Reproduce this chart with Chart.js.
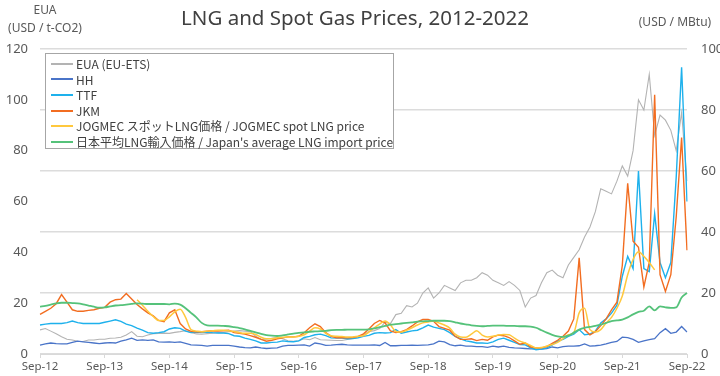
<!DOCTYPE html>
<html>
<head>
<meta charset="utf-8">
<script src="https://cdn.jsdelivr.net/npm/chart.js@4"></script>
<style>
  body { margin: 0; background: #fff; }
  #wrap { position: relative; width: 720px; height: 376px; font-family: "Noto Sans", "Noto Sans CJK JP", sans-serif; color: #595959; }
  #wrap canvas { position: absolute; left: 0; top: 0; }
  .txt { position: absolute; white-space: nowrap; }
  #title { left: 0; width: 710px; top: 3px; text-align: center; font-size: 20.5px; color: #404040; }
  #legend { position: absolute; left: 45px; top: 53px; width: 349px; height: 96px; border: 1px solid #a6a6a6; background: #fff; padding-top: 2px; box-sizing: border-box; }
  .item { height: 15.6px; line-height: 15.6px; font-family: "Noto Sans CJK JP", sans-serif; font-size: 12px; color: #404040; display: flex; align-items: center; white-space: nowrap; }
  .swatch { width: 22px; height: 2px; margin: 0 3px 0 5px; flex: none; }
</style>
</head>
<body>
<div id="wrap">
  <canvas id="chart" width="720" height="376"></canvas>
  <div id="title" class="txt">LNG and Spot Gas Prices, 2012-2022</div>
  <div class="txt" style="left:0;width:90px;text-align:center;top:1px;font-size:12px;">EUA</div>
  <div class="txt" style="left:0;width:90px;text-align:center;top:19px;font-size:12px;">(USD / t-CO2)</div>
  <div class="txt" style="left:630px;width:90px;text-align:center;top:13px;font-size:12px;">(USD / MBtu)</div>
  <div id="legend"></div>
</div>
<script>
// monthly points, Sep-12 .. Sep-22
const monthNames = ["Sep", "Oct", "Nov", "Dec", "Jan", "Feb", "Mar", "Apr", "May", "Jun", "Jul", "Aug"];
const firstYear = 12;

// EUA, USD / t-CO2 (left axis)
const eua = [
  9.5, 10.0, 9.0, 8.0, 6.8, 5.8, 5.5, 5.0, 4.9, 5.5, 5.5, 5.8,
  5.8, 6.2, 6.3, 6.6, 7.5, 8.8, 7.0, 6.8, 7.5, 8.0, 8.1, 8.2,
  8.1, 8.5, 8.8, 9.2, 8.5, 7.9, 7.8, 8.0, 8.2, 8.4, 8.4, 8.8,
  9.0, 9.2, 9.0, 8.8, 7.0, 5.8, 5.8, 6.2, 6.6, 6.0, 5.2, 5.0,
  5.2, 6.0, 5.6, 6.5, 5.6, 5.5, 5.4, 5.3, 5.3, 5.7, 6.1, 6.5,
  7.6, 8.8, 9.2, 10.0, 12.5, 12.0, 15.5, 16.0, 19.0, 18.5, 20.0, 24.0,
  26, 22, 24, 27, 26, 25, 28, 29, 29, 30, 32, 31,
  29, 28, 27, 28.5, 27, 25, 18.5, 22, 23, 28, 32, 33,
  31, 30, 35, 38, 41, 46, 50, 56, 65, 64, 63, 68,
  74, 70, 80, 100, 96, 110, 86, 94, 92, 88, 80, 95,
  68
];

// USD / MBtu (right axis)
const hh = [
  2.9, 3.3, 3.6, 3.4, 3.3, 3.3, 3.8, 4.2, 4.0, 3.8, 3.6, 3.4,
  3.6, 3.7, 3.6, 4.2, 4.6, 5.2, 4.5, 4.6, 4.5, 4.6, 4.0, 3.9,
  4.0, 3.8, 4.0, 3.5, 3.0, 2.9, 2.8, 2.6, 2.8, 2.8, 2.8, 2.8,
  2.6, 2.3, 2.1, 2.0, 2.3, 2.0, 1.8, 1.9, 2.0, 2.6, 2.8, 2.8,
  2.9, 3.0, 2.6, 3.6, 3.3, 2.8, 2.9, 3.1, 3.2, 3.0, 2.9, 2.9,
  2.9, 2.9, 3.0, 2.8, 3.8, 2.7, 2.7, 2.8, 2.8, 2.9, 2.8, 2.9,
  3.0, 3.3, 4.2, 4.0, 3.1, 2.7, 2.9, 2.6, 2.6, 2.4, 2.4, 2.2,
  2.6, 2.3, 2.6, 2.2, 2.0, 1.9, 1.8, 1.7, 1.8, 1.6, 1.8, 2.3,
  2.0, 2.4, 2.6, 2.6, 2.7, 3.3, 2.6, 2.7, 2.9, 3.3, 3.8, 4.1,
  5.5, 5.4, 4.8, 3.8, 4.3, 4.7, 5.0, 7.0, 8.3, 6.8, 7.2, 9.0,
  7.2
];

const ttf = [
  9.5, 9.8, 10.0, 10.0, 10.0, 10.3, 10.8, 10.3, 10.0, 10.0, 10.0, 10.0,
  10.4, 10.8, 11.2, 10.7, 9.8, 9.3, 8.5, 7.8, 7.0, 6.8, 7.0, 7.3,
  8.2, 8.6, 8.4, 7.5, 7.0, 7.2, 7.0, 7.2, 7.0, 6.9, 6.9, 6.7,
  6.0, 5.8, 5.2, 4.8, 4.3, 3.6, 3.6, 3.8, 3.9, 4.3, 4.1, 4.0,
  4.3, 5.4, 5.8, 6.3, 6.5, 6.0, 5.3, 5.2, 5.2, 5.0, 5.1, 5.3,
  5.8, 6.1, 6.8, 7.0, 6.9, 7.0, 8.0, 6.8, 7.2, 7.6, 7.8, 8.6,
  9.5, 8.8, 8.4, 8.0, 7.0, 5.8, 5.0, 4.3, 4.0, 3.6, 3.6, 3.5,
  4.0, 4.8, 5.2, 4.5, 3.8, 3.1, 3.0, 2.0, 1.4, 1.6, 2.0, 3.0,
  4.2, 4.8, 5.8, 6.5, 8.0, 6.3, 6.5, 7.5, 10.2, 11.5, 13.4, 16.0,
  25.5, 32.0, 28.0, 60.0, 28.0, 27.0, 46.0, 30.0, 25.0, 30.0, 58.0, 94.0,
  50.0
];

const jkm = [
  13.0, 14.0, 15.0, 16.5, 19.5, 17.0, 14.5, 14.0, 14.0, 14.3, 14.5, 15.0,
  15.3, 17.0, 17.8, 18.0, 19.8, 18.0, 16.2, 14.8, 13.5, 12.5, 11.0, 10.6,
  13.5, 14.5, 10.0, 8.2, 7.4, 7.3, 7.3, 7.5, 7.6, 7.5, 7.6, 7.8,
  7.0, 6.8, 6.5, 6.0, 5.5, 4.8, 4.2, 4.5, 5.0, 5.3, 5.6, 5.6,
  5.8, 7.0, 8.6, 9.9, 9.0, 7.0, 5.8, 5.3, 5.4, 5.3, 5.4, 5.8,
  6.6, 8.2, 10.0, 11.0, 10.2, 7.6, 7.0, 7.3, 8.0, 9.2, 10.5, 11.3,
  11.3, 10.7, 9.0, 8.4, 7.8, 5.8, 4.8, 4.8, 5.0, 4.4, 4.8, 4.5,
  5.6, 6.2, 6.0, 5.4, 4.3, 3.2, 3.6, 2.3, 2.0, 2.0, 2.4, 3.5,
  4.5, 5.8, 7.5, 11.5, 31.5, 8.0, 6.3, 7.3, 9.3, 11.5, 14.5, 17.0,
  29.0, 56.0, 37.0, 35.0, 22.0, 30.0, 85.0, 26.0, 20.5, 26.0, 45.0, 71.0,
  34.0
];

const jogmec = [
  null, null, null, null, null, null, null, null, null, null, null, null,
  null, null, null, null, null, null, 17.8, 16.0, 14.0, 12.3, 11.0, 11.0,
  12.2, 13.8, 14.7, 12.0, 8.0, 7.5, 7.3, 7.5, 7.6, 7.8, 7.8, 7.6,
  7.4, 7.0, 6.8, 6.8, 6.4, 5.5, 5.0, 5.0, 5.3, 5.5, 5.6, 5.6,
  5.8, 6.3, 7.5, 8.6, 8.2, 6.8, 6.0, 5.8, 5.7, 5.6, 5.6, 5.8,
  6.0, 7.2, 8.6, 9.8, 10.8, 9.5, 7.4, 7.2, 7.8, 8.6, 9.5, 10.2,
  10.5, 10.8, 10.2, 9.5, 8.5, 6.5, 5.6, 5.5, 6.5, 7.6, 6.2, 5.6,
  5.8, 6.2, 6.4, 6.3, 5.2, 4.2, 3.6, 2.8, 2.0, 2.1, 2.6, 3.1,
  3.8, 5.0, 6.3, 7.0, 13.5, 15.0, 8.0, 7.2, 8.0, 10.2, 12.0, 15.0,
  19.0, 26.0, 31.0, 33.5, 32.0, 30.0, 27.6, null, null, null, null, null,
  null
];

const japanImport = [
  15.5, 15.8, 16.2, 16.6, 16.8, 16.8, 16.7, 16.6, 16.3, 15.9, 15.5, 15.2,
  15.3, 15.6, 15.9, 16.0, 16.2, 16.4, 16.6, 16.5, 16.4, 16.4, 16.4, 16.4,
  16.3, 16.5, 16.2, 15.0, 13.5, 12.0, 10.2, 9.4, 9.3, 9.3, 9.2, 9.1,
  8.8, 8.5, 8.1, 7.6, 7.1, 6.6, 6.2, 6.0, 5.9, 6.1, 6.4, 6.7,
  6.9, 7.1, 7.3, 7.4, 7.5, 7.6, 7.8, 7.9, 7.9, 8.0, 8.0, 8.0,
  8.0, 8.1, 8.4, 8.8, 9.2, 9.6, 9.8, 10.0, 10.2, 10.4, 10.6, 10.7,
  10.8, 10.9, 10.9, 10.9, 10.8, 10.4, 10.0, 9.7, 9.4, 9.2, 9.1, 9.2,
  9.3, 9.3, 9.3, 9.2, 9.2, 9.1, 9.1, 9.0, 8.6, 7.8, 7.0, 6.3,
  5.8, 5.6, 6.0, 7.0, 8.0, 8.6, 8.9, 9.2, 9.6, 10.2, 10.8, 11.0,
  11.3, 12.0, 13.0, 13.8, 14.2, 15.6, 14.3, 15.6, 15.3, 15.1, 15.3, 18.5,
  20.0
];

const labels = [];
for (let i = 0; i < eua.length; i++) {
  const yr = firstYear + Math.floor(i / 12) + (i % 12 >= 4 ? 1 : 0);
  labels.push(monthNames[i % 12] + "-" + yr);
}

const series = [
  { label: "EUA (EU-ETS)", data: eua, color: "#b3b3b3", axis: "yEua", width: 1.1, smooth: false, order: 6 },
  { label: "HH", data: hh, color: "#4a74c8", axis: "yGas", width: 1.3, smooth: false, order: 5 },
  { label: "TTF", data: ttf, color: "#1eb1ec", axis: "yGas", width: 1.4, smooth: false, order: 4 },
  { label: "JKM", data: jkm, color: "#f26d21", axis: "yGas", width: 1.4, smooth: false, order: 3 },
  { label: "JOGMEC スポットLNG価格 / JOGMEC spot LNG price", data: jogmec, color: "#ffc83d", axis: "yGas", width: 1.5, smooth: true, order: 2 },
  { label: "日本平均LNG輸入価格 / Japan's average LNG import price", data: japanImport, color: "#55c27a", axis: "yGas", width: 1.8, smooth: true, order: 1 }
];

const legendBox = document.getElementById("legend");
series.forEach(s => {
  const row = document.createElement("div");
  row.className = "item";
  row.innerHTML = `<span class="swatch" style="background:${s.color}"></span><span>${s.label}</span>`;
  legendBox.appendChild(row);
});

const tickFont = { family: "'Noto Sans', sans-serif", size: 13 };

new Chart(document.getElementById("chart"), {
  type: "line",
  data: {
    labels: labels,
    datasets: series.map(s => ({
      label: s.label,
      data: s.data,
      yAxisID: s.axis,
      borderColor: s.color,
      backgroundColor: s.color,
      borderWidth: s.width,
      pointRadius: 0,
      tension: s.smooth ? 0.4 : 0,
      cubicInterpolationMode: s.smooth ? "monotone" : "default",
      spanGaps: false,
      order: s.order
    }))
  },
  options: {
    responsive: false,
    animation: false,
    layout: { padding: { top: 49, left: 0, right: 0, bottom: 0 } },
    plugins: {
      legend: { display: false },
      tooltip: { enabled: false },
      title: { display: false }
    },
    scales: {
      x: {
        grid: { drawOnChartArea: false, drawTicks: true, tickLength: 4, color: "#d9d9d9" },
        border: { display: true, color: "#d9d9d9" },
        ticks: {
          autoSkip: false,
          maxRotation: 0,
          padding: 2,
          color: "#595959",
          font: { family: "'Noto Sans', sans-serif", size: 11.5 },
          callback: function (val, idx) {
            return idx % 12 === 0 ? this.getLabelForValue(val) : null;
          }
        },
        afterFit: scale => { scale.height = 22; }
      },
      yEua: {
        position: "left",
        min: 0,
        max: 120,
        grid: { display: false, drawTicks: false },
        border: { display: false },
        ticks: { stepSize: 20, padding: 12, color: "#595959", font: tickFont },
        afterFit: scale => { scale.width = 40; }
      },
      yGas: {
        position: "right",
        min: 0,
        max: 100,
        grid: { color: "#dcdcdc", lineWidth: 1.5, drawTicks: false },
        border: { display: false },
        ticks: { stepSize: 20, padding: 14, color: "#595959", font: tickFont },
        afterFit: scale => { scale.width = 33; }
      }
    }
  }
});
</script>
</body>
</html>
